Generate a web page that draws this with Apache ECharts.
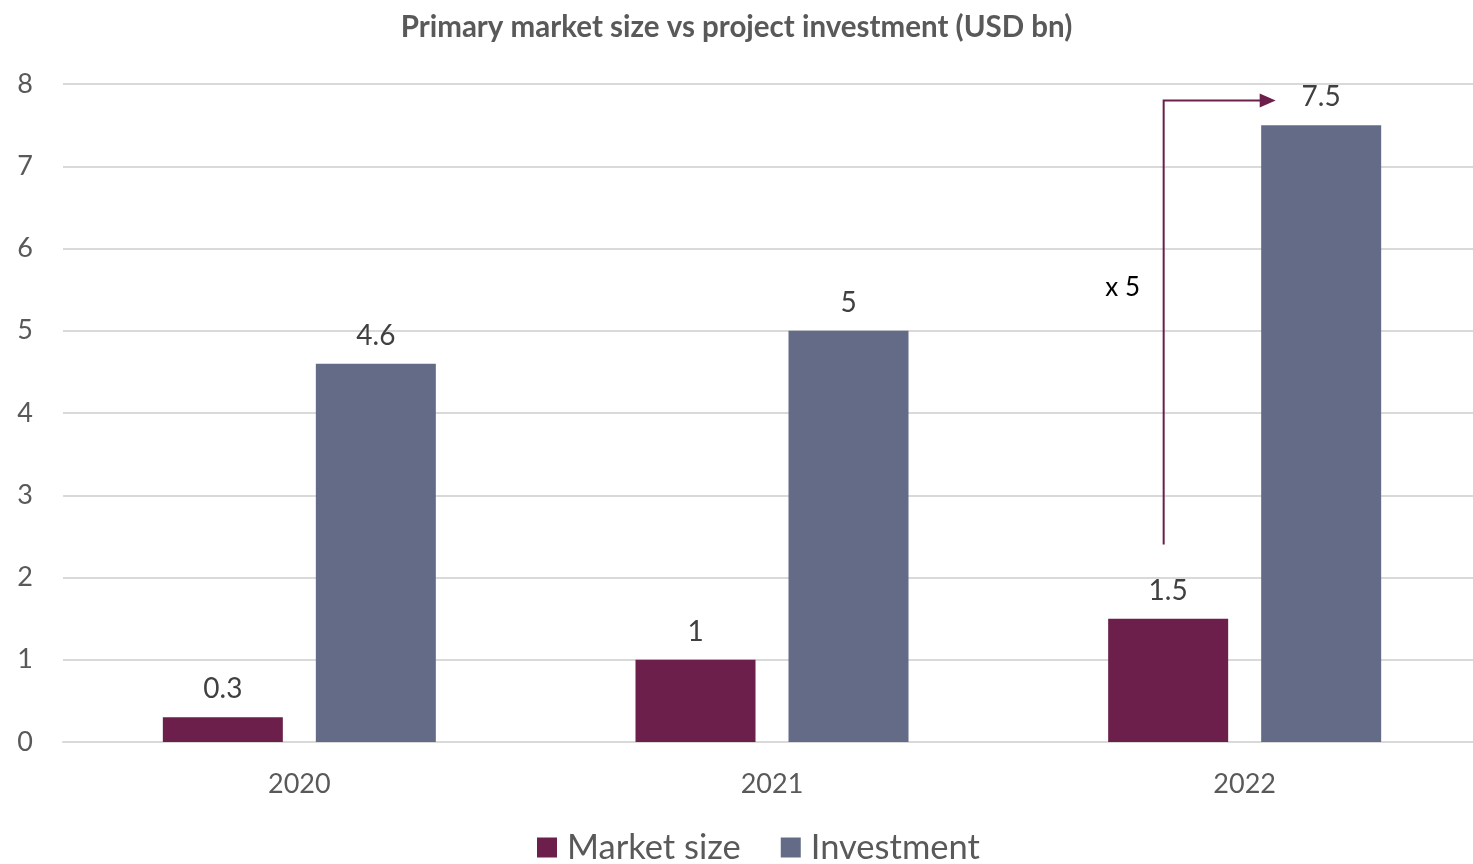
<!DOCTYPE html>
<html><head><meta charset="utf-8">
<script src="https://cdn.jsdelivr.net/npm/echarts@6/dist/echarts.min.js"></script>
<style>html,body{margin:0;padding:0;background:#fff}#c{width:1473px;height:864px}</style>
</head><body><div id="c"></div>
<script>
const categories = ['2020', '2021', '2022'];
const marketSize = [0.3, 1, 1.5];
const investment = [4.6, 5, 7.5];
const yTicks = [0, 1, 2, 3, 4, 5, 6, 7, 8];
const annotationText = 'x 5';
const arrowFrom = 2.4, arrowTo = 7.8, textAt = 5.52;

const FONT = 'Lato';
const chart = echarts.init(document.getElementById('c'));
const option = {
  animation: false,
  title: {
    text: 'Primary market size vs project investment (USD bn)',
    left: 'center', top: 7,
    textStyle: { fontFamily: FONT, fontWeight: 'bold', fontSize: 29.5, color: '#595959' }
  },
  legend: {
    bottom: -6, left: 532,
    itemWidth: 20, itemHeight: 20, itemGap: 40,
    icon: 'rect',
    textStyle: { fontFamily: FONT, fontSize: 34.5, color: '#595959', padding: [0, 0, 0, 5] },
    data: ['Market size', 'Investment']
  },
  grid: { left: 63, width: 1418, top: 84, bottom: 122, containLabel: false, outerBoundsMode: 'none' },
  xAxis: {
    type: 'category', data: categories,
    axisLine: { show: true, lineStyle: { color: '#d9d9d9', width: 2 } },
    axisTick: { show: false },
    axisLabel: { fontFamily: FONT, fontSize: 27, color: '#595959', margin: 29 }
  },
  yAxis: {
    type: 'value', min: yTicks[0], max: yTicks[yTicks.length - 1], interval: 1,
    axisLine: { show: false }, axisTick: { show: false },
    splitLine: { lineStyle: { color: '#d9d9d9', width: 2 } },
    axisLabel: { fontFamily: FONT, fontSize: 27, color: '#595959', margin: 30 }
  },
  series: [
    {
      name: 'Market size', type: 'bar', data: marketSize,
      barWidth: 120, barGap: '27.5%',
      itemStyle: { color: '#6B1F4A' },
      label: { show: true, position: 'top', distance: 14, fontFamily: FONT, fontSize: 28, color: '#404040' }
    },
    {
      name: 'Investment', type: 'bar', data: investment,
      barWidth: 120,
      itemStyle: { color: '#646B86' },
      label: { show: true, position: 'top', distance: 14, fontFamily: FONT, fontSize: 28, color: '#404040' }
    }
  ]
};
chart.setOption(option);

function drawAnnotation() {
  const base = chart.convertToPixel({ xAxisIndex: 0, yAxisIndex: 0 }, [categories[2], arrowFrom]);
  const top = chart.convertToPixel({ xAxisIndex: 0, yAxisIndex: 0 }, [categories[2], arrowTo]);
  const txt = chart.convertToPixel({ xAxisIndex: 0, yAxisIndex: 0 }, [categories[2], textAt]);
  const cx = base[0];
  const lx = cx - 81;
  const tip = cx + 31;
  const col = '#6B1F4A';
  chart.setOption({
    graphic: [
      { type: 'polyline', shape: { points: [[lx, base[1]], [lx, top[1]], [tip - 14, top[1]]] },
        style: { stroke: col, lineWidth: 2, fill: null }, z: 10 },
      { type: 'polygon', shape: { points: [[tip - 16, top[1] - 7], [tip, top[1]], [tip - 16, top[1] + 7]] },
        style: { fill: col }, z: 10 },
      { type: 'text', x: cx - 122, y: txt[1],
        style: { text: annotationText, fontFamily: FONT, fontSize: 26, fill: '#000', align: 'center', verticalAlign: 'middle' }, z: 10 }
    ]
  });
}
drawAnnotation();
</script>
</body></html>
